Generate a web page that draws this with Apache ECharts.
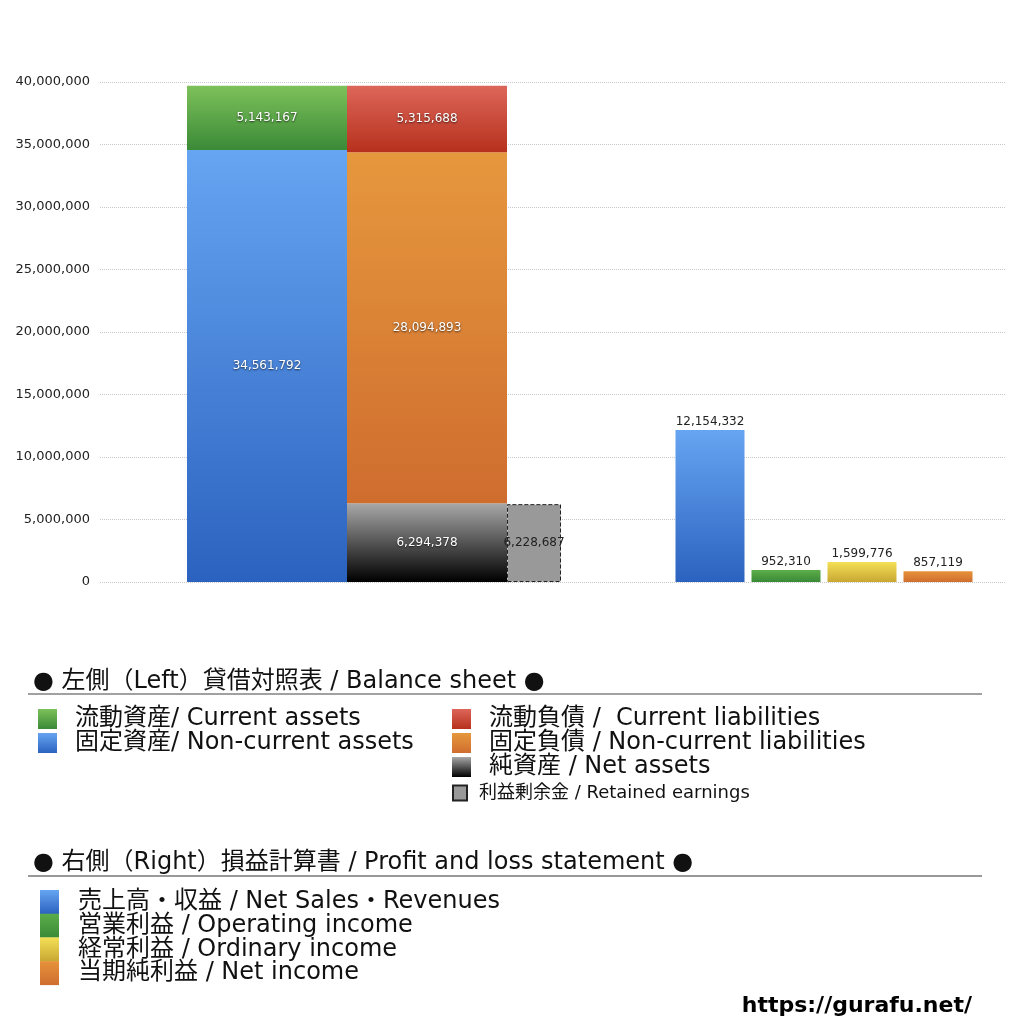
<!DOCTYPE html>
<html lang="ja">
<head>
    <meta charset="UTF-8">
    <title>貸借対照表 / 損益計算書</title>
    <style>
        html, body { margin: 0; padding: 0; background: #fff; }
        #main { width: 1024px; height: 1024px; }
    </style>
    <script src="https://cdn.jsdelivr.net/npm/echarts@6/dist/echarts.min.js"></script>
</head>
<body>
    <div id="main"></div>
    <script type="text/javascript">
        // 左側：貸借対照表
        var assetNames = ['固定資産/ Non-current assets', '流動資産/ Current assets'];
        var assetValues = [34561792, 5143167];
        var liabNames = ['純資産 / Net assets', '固定負債 / Non-current liabilities', '流動負債 /  Current liabilities'];
        var liabValues = [6294378, 28094893, 5315688];
        var retainedName = '利益剰余金 / Retained earnings';
        var retainedValue = 6228687;

        // 右側：損益計算書
        var plNames = ['売上高・収益 / Net Sales・Revenues', '営業利益 / Operating income', '経常利益 / Ordinary income', '当期純利益 / Net income'];
        var plValues = [12154332, 952310, 1599776, 857119];

        var yMax = 40000000;
        var yStep = 5000000;

        var FONT = '"DejaVu Sans", "Noto Sans CJK JP", sans-serif';

        function grad(top, bottom) {
            return new echarts.graphic.LinearGradient(0, 0, 0, 1, [
                { offset: 0, color: top },
                { offset: 1, color: bottom }
            ]);
        }
        function fmt(v) {
            return Number(v).toLocaleString('en-US');
        }

        var insideLabel = {
            show: true,
            position: 'inside',
            color: '#fff',
            fontSize: 12,
            fontFamily: FONT,
            textShadowColor: 'rgba(0,0,0,0.7)',
            textShadowBlur: 2,
            textShadowOffsetY: 1,
            formatter: function (p) { return fmt(p.value); }
        };

        var assetColors = [grad('#66a5f2', '#2b62bf'), grad('#7dc15a', '#3b8a37')];
        var liabColors = [grad('#a8a8a8', '#000000'), grad('#e6983d', '#cf6d2f'), grad('#dd665a', '#b7311d')];
        var plColors = [grad('#66a5f2', '#2b62bf'), grad('#5cad4a', '#3a8a37'), grad('#f4e056', '#c8a733'), grad('#e6923b', '#cf6e2f')];

        var series = [];
        assetNames.forEach(function (n, i) {
            series.push({
                name: n, type: 'bar', xAxisIndex: 1, yAxisIndex: 1,
                stack: 'assets', barWidth: 160, barGap: '0%',
                data: [assetValues[i]],
                itemStyle: { color: assetColors[i] },
                label: insideLabel
            });
        });
        liabNames.forEach(function (n, i) {
            series.push({
                name: n, type: 'bar', xAxisIndex: 1, yAxisIndex: 1,
                stack: 'liab', barWidth: 160, barGap: '0%',
                data: [liabValues[i]],
                itemStyle: { color: liabColors[i] },
                label: insideLabel
            });
        });
        series.push({
            name: retainedName, type: 'bar', xAxisIndex: 1, yAxisIndex: 1,
            barWidth: 54, barGap: '0%',
            data: [retainedValue],
            itemStyle: { color: '#999999', borderColor: '#222', borderWidth: 1, borderType: 'dashed' },
            label: {
                show: true, position: 'inside', color: '#222', fontSize: 12, fontFamily: FONT,
                formatter: function (p) { return fmt(p.value); }
            }
        });
        plNames.forEach(function (n, i) {
            var d = plValues.map(function (v, j) { return j === i ? v : '-'; });
            series.push({
                name: n, type: 'bar', xAxisIndex: 2, yAxisIndex: 2,
                stack: 'pl', barWidth: 69,
                data: d,
                itemStyle: { color: plColors[i] },
                label: {
                    show: true, position: 'top', distance: 2, color: '#222', fontSize: 12, fontFamily: FONT,
                    formatter: function (p) { return fmt(p.value); }
                }
            });
        });

        var bsText = { fontSize: 24, color: '#111', fontFamily: FONT, padding: [0, 0, 0, 13] };
        var plText = { fontSize: 24, color: '#111', fontFamily: FONT, padding: [0, 0, 0, 14] };

        var chart = echarts.init(document.getElementById('main'));
        chart.setOption({
            animation: false,
            textStyle: { fontFamily: FONT },
            grid: [
                { left: 100, right: 19, top: 82, bottom: 442 },
                { left: 187, width: 374, top: 82, bottom: 442 },
                { left: 672, width: 304, top: 82, bottom: 442 }
            ],
            xAxis: [
                { gridIndex: 0, type: 'value', min: 0, max: 1, show: false },
                { gridIndex: 1, type: 'category', data: ['BS'], show: false },
                { gridIndex: 2, type: 'category', data: plNames, show: false }
            ],
            yAxis: [
                {
                    gridIndex: 0, type: 'value', min: 0, max: yMax, interval: yStep,
                    axisLine: { show: false }, axisTick: { show: false },
                    axisLabel: { color: '#222', fontSize: 13, margin: 10, fontFamily: FONT, formatter: fmt },
                    splitLine: { lineStyle: { color: '#c8c8c8', type: 'dotted', width: 1 } }
                },
                { gridIndex: 1, type: 'value', min: 0, max: yMax, show: false },
                { gridIndex: 2, type: 'value', min: 0, max: yMax, show: false }
            ],
            legend: [
                {
                    data: ['流動資産/ Current assets', '固定資産/ Non-current assets'],
                    orient: 'vertical', left: 38, top: 707, padding: 0, icon: 'rect', itemWidth: 19, itemHeight: 20, itemGap: 0,
                    selectedMode: false, textStyle: bsText
                },
                {
                    data: ['流動負債 /  Current liabilities', '固定負債 / Non-current liabilities', '純資産 / Net assets'],
                    orient: 'vertical', left: 452, top: 707, padding: 0, icon: 'rect', itemWidth: 19, itemHeight: 20, itemGap: 0,
                    selectedMode: false, textStyle: bsText
                },
                {
                    data: [retainedName],
                    orient: 'vertical', left: 452, top: 784, padding: 0, icon: 'rect', itemWidth: 14, itemHeight: 15,
                    selectedMode: false,
                    textStyle: { fontSize: 18, color: '#111', fontFamily: FONT, padding: [0, 0, 0, 7] }
                },
                {
                    data: plNames,
                    orient: 'vertical', left: 40, top: 890, padding: 0, icon: 'rect', itemWidth: 19, itemHeight: 24, itemGap: -0.3,
                    selectedMode: false, textStyle: plText
                }
            ],
            graphic: [
                {
                    type: 'text', left: 33, top: 670,
                    style: { text: '● 左側（Left）貸借対照表 / Balance sheet ●', fontSize: 24, fill: '#111', fontFamily: FONT }
                },
                {
                    type: 'line', shape: { x1: 28, y1: 694, x2: 982, y2: 694 },
                    style: { stroke: '#444', lineWidth: 1.2 }
                },
                {
                    type: 'text', left: 33, top: 851,
                    style: { text: '● 右側（Right）損益計算書 / Profit and loss statement ●', fontSize: 24, fill: '#111', fontFamily: FONT }
                },
                {
                    type: 'line', shape: { x1: 28, y1: 876, x2: 982, y2: 876 },
                    style: { stroke: '#777', lineWidth: 1.5 }
                },
                {
                    type: 'text', right: 52, top: 995,
                    style: { text: 'https://gurafu.net/', fontSize: 22, fontWeight: 'bold', fill: '#000', fontFamily: FONT }
                }
            ],
            series: series
        });
    </script>
</body>
</html>
